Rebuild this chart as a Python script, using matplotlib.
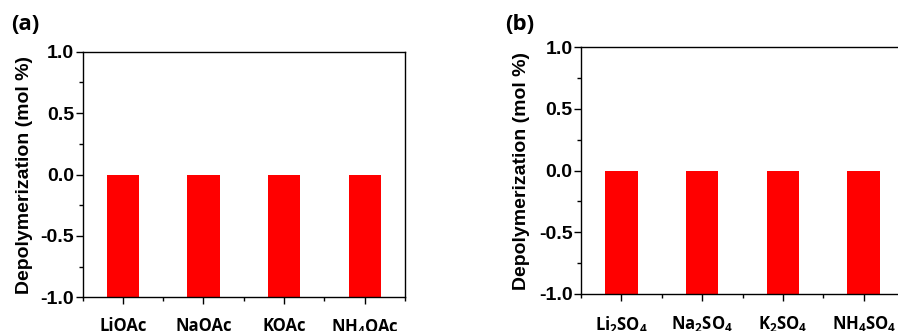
import matplotlib
matplotlib.use("Agg")
import matplotlib.pyplot as plt
from matplotlib.ticker import MultipleLocator, FixedLocator

plt.rcParams['font.family'] = ['Open Sans', 'DejaVu Sans']
plt.rcParams['font.weight'] = 'bold'
plt.rcParams['mathtext.fontset'] = 'custom'
plt.rcParams['mathtext.rm'] = 'Open Sans:bold'
plt.rcParams['mathtext.it'] = 'Open Sans:bold'
plt.rcParams['mathtext.bf'] = 'Open Sans:bold'

# Salt categories and measured depolymerization (mol %)
acetate_salts = ["LiOAc", "NaOAc", "KOAc", r"NH$_4$OAc"]
acetate_values = [0.0, 0.0, 0.0, 0.0]
sulfate_salts = [r"Li$_2$SO$_4$", r"Na$_2$SO$_4$", r"K$_2$SO$_4$", r"NH$_4$SO$_4$"]
sulfate_values = [0.0, 0.0, 0.0, 0.0]

y_ticks = [-1.0, -0.5, 0.0, 0.5, 1.0]
y_min, y_max = -1.0, 1.0
bar_color = "#ff0000"
axis_font = ['Liberation Sans', 'DejaVu Sans']

fig = plt.figure(figsize=(8.98, 3.31), dpi=100)
ax_a = fig.add_axes([0.0919, 0.1018, 0.3591, 0.742])
ax_b = fig.add_axes([0.647, 0.1118, 0.3597, 0.746])


def draw_panel(ax, labels, values, tag, tag_xy, ylabel_x):
    x = list(range(1, len(labels) + 1))
    # bars rise from the bottom of the axis up to their value
    heights = [v - y_min for v in values]
    ax.bar(x, heights, bottom=y_min, width=0.4, color=bar_color, edgecolor="none", zorder=2)
    ax.set_xlim(0.5, len(labels) + 0.5)
    ax.set_ylim(y_min, y_max)
    ax.set_xticks(x)
    ax.set_xticklabels(labels, fontsize=12, fontweight='bold')
    ax.xaxis.set_minor_locator(FixedLocator([i + 0.5 for i in range(len(labels) + 1)]))
    ax.set_yticks(y_ticks)
    ax.set_yticklabels([f"{t:.1f}" for t in y_ticks], fontsize=14, fontweight='bold',
                       family=axis_font)
    ax.yaxis.set_minor_locator(MultipleLocator(0.25))
    ax.tick_params(axis='both', which='major', direction='out', length=5, width=1, color='black')
    ax.tick_params(axis='both', which='minor', direction='out', length=3, width=1, color='black')
    ax.tick_params(axis='x', which='major', pad=9.5)
    ax.tick_params(axis='y', which='major', pad=1.2)
    for s in ax.spines.values():
        s.set_linewidth(1.0)
        s.set_color('black')
    ax.set_ylabel("Depolymerization (mol %)", fontsize=14, fontweight='bold', family=axis_font)
    ax.yaxis.set_label_coords(ylabel_x, 0.5)
    fig.text(tag_xy[0], tag_xy[1], tag, fontsize=16, fontweight='bold', ha='left', va='center')


draw_panel(ax_a, acetate_salts, acetate_values, "(a)", (0.012, 0.925), -0.153)
draw_panel(ax_b, sulfate_salts, sulfate_values, "(b)", (0.563, 0.925), -0.158)

fig.savefig("out.png", dpi=100)
